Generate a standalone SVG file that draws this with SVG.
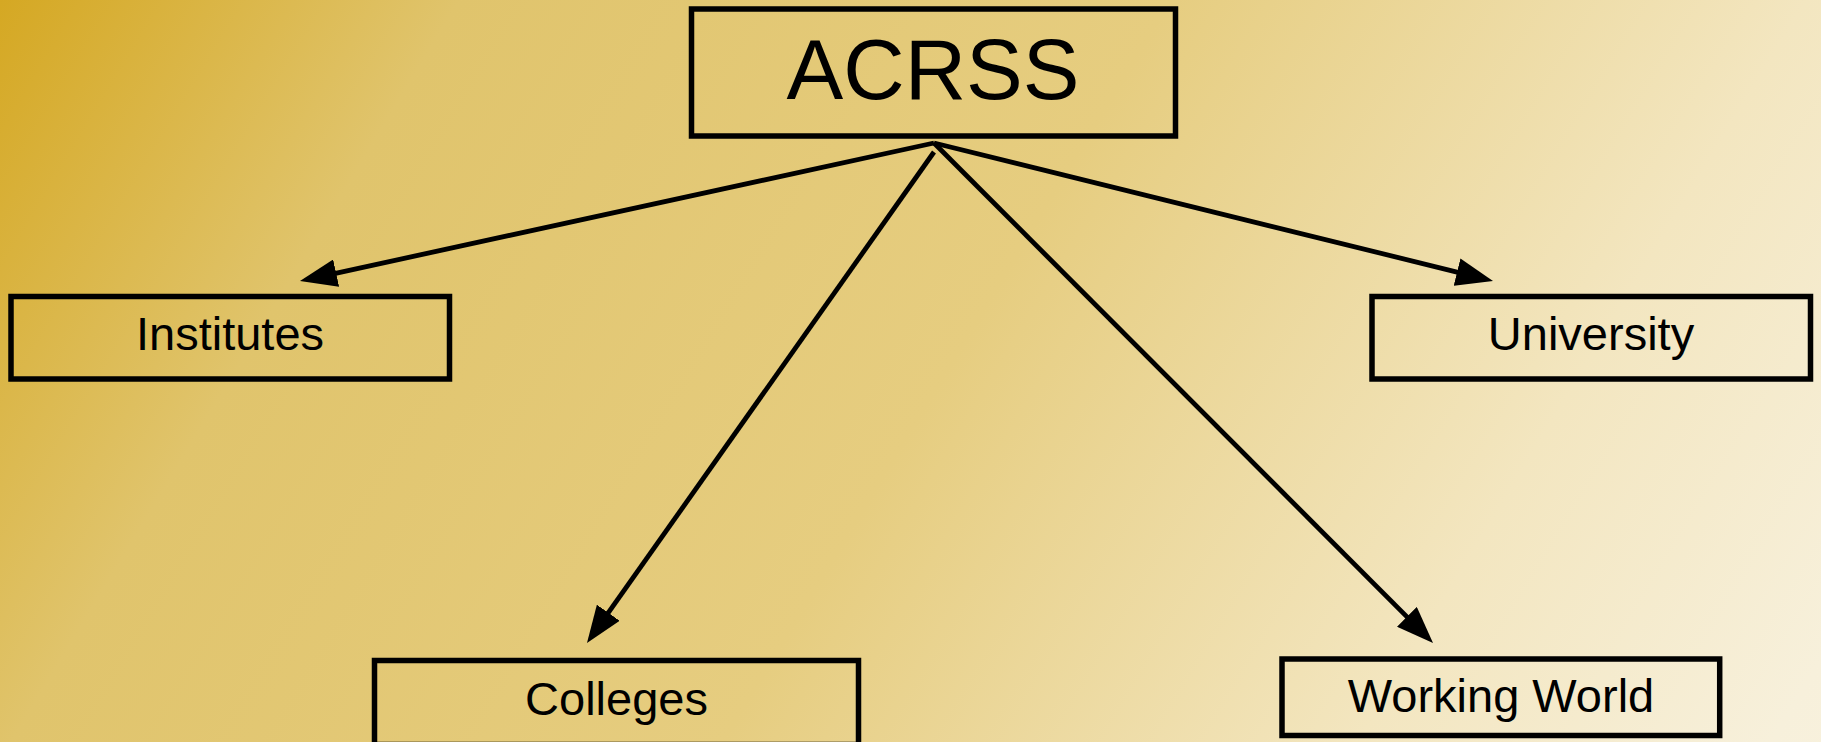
<svg xmlns="http://www.w3.org/2000/svg" width="1821" height="742" viewBox="0 0 1821 742">
  <defs>
    <linearGradient id="bg" gradientUnits="userSpaceOnUse" x1="0" y1="0" x2="1821" y2="1100">
      <stop offset="0" stop-color="#D5A823"/>
      <stop offset="0.185" stop-color="#E0C46C"/>
      <stop offset="0.471" stop-color="#E6CD80"/>
      <stop offset="0.727" stop-color="#F3E6C0"/>
      <stop offset="0.893" stop-color="#F7F0DB"/>
      <stop offset="1" stop-color="#F9F3E2"/>
    </linearGradient>
    <marker id="arrow" markerUnits="userSpaceOnUse" markerWidth="38" markerHeight="28" viewBox="0 0 38 28" refX="3" refY="14" orient="auto">
      <path d="M0,0 L37,14 L0,28 z" fill="#000"/>
    </marker>
    <style>
      .box { fill: none; stroke: #000; stroke-width: 5.5; }
      .lbl { font-family: "Liberation Sans", Arial, sans-serif; font-size: 47px; fill: #000; text-anchor: middle; }
      .title { font-family: "Liberation Sans", Arial, sans-serif; font-size: 85px; fill: #000; text-anchor: middle; }
      .conn { stroke: #000; stroke-width: 4.8; fill: none; marker-end: url(#arrow); }
    </style>
  </defs>
  <rect x="0" y="0" width="1821" height="742" fill="url(#bg)"/>

  <g id="acrss">
    <rect class="box" x="691.5" y="9" width="484" height="127"/>
    <text class="title" x="933" y="99">ACRSS</text>
  </g>
  <g id="institutes">
    <rect class="box" x="11" y="296.5" width="438.5" height="82.5"/>
    <text class="lbl" x="230" y="350">Institutes</text>
  </g>
  <g id="university">
    <rect class="box" x="1372" y="296.5" width="438.5" height="82.5"/>
    <text class="lbl" x="1591" y="350">University</text>
  </g>
  <g id="colleges">
    <rect class="box" x="374.5" y="660.5" width="484" height="84"/>
    <text class="lbl" x="616.5" y="715">Colleges</text>
  </g>
  <g id="working-world">
    <rect class="box" x="1282" y="659" width="437.7" height="76.5"/>
    <text class="lbl" x="1501" y="711.5">Working World</text>
  </g>

  <g id="connectors">
    <line class="conn" x1="934" y1="143" x2="333.2" y2="273.8"/>
    <line class="conn" x1="934" y1="143" x2="1460" y2="272.8"/>
    <line class="conn" x1="934" y1="152" x2="606.6" y2="615.2"/>
    <line class="conn" x1="934" y1="143" x2="1409" y2="618.9"/>
  </g>
</svg>
